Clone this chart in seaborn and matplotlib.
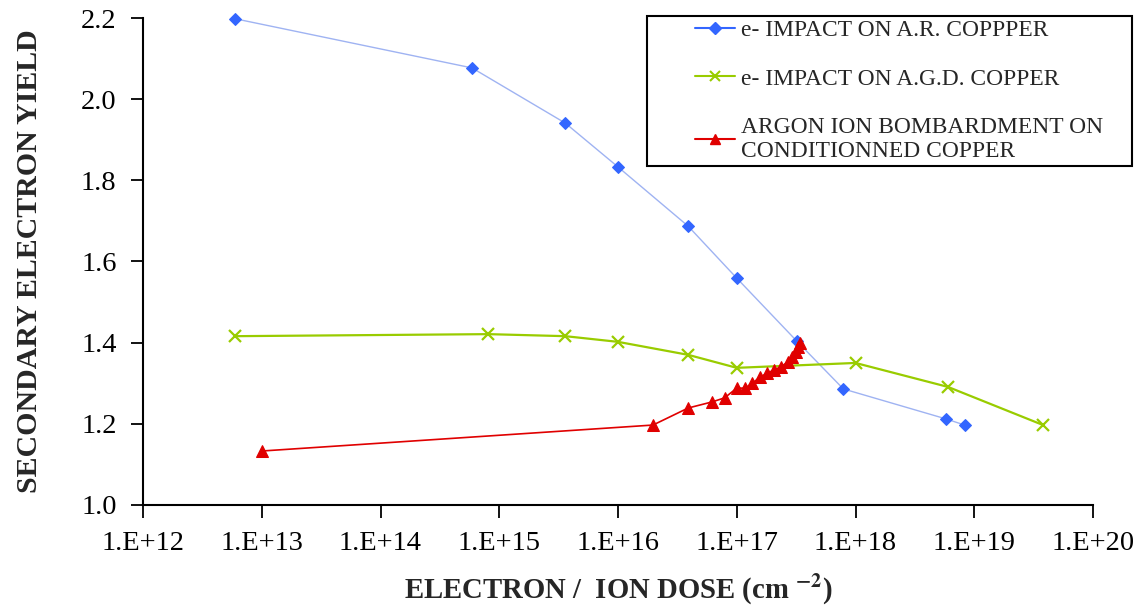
import numpy as np
import pandas as pd
import seaborn as sns
import matplotlib.pyplot as plt
from matplotlib.lines import Line2D
from matplotlib.patches import Rectangle
from matplotlib.ticker import FixedLocator, FuncFormatter, NullLocator

# data
ar_dose = [6.0e12, 5.9e14, 3.6e15, 1.0e16, 3.9e16, 1.0e17, 3.2e17, 7.9e17, 5.8e18, 8.3e18]
ar_yield = [2.198, 2.077, 1.941, 1.833, 1.687, 1.559, 1.404, 1.286, 1.212, 1.197]

agd_dose = [6.0e12, 8.1e14, 3.6e15, 1.0e16, 3.9e16, 1.0e17, 1.0e18, 6.0e18, 3.8e19]
agd_yield = [1.416, 1.421, 1.416, 1.402, 1.370, 1.338, 1.350, 1.291, 1.197]

ion_dose = [1.0e13, 1.97e16, 3.9e16, 6.2e16, 7.9e16, 1.0e17, 1.18e17, 1.35e17, 1.57e17,
            1.81e17, 2.07e17, 2.34e17, 2.68e17, 2.92e17, 3.13e17, 3.3e17, 3.4e17]
ion_yield = [1.133, 1.197, 1.239, 1.254, 1.264, 1.288, 1.288, 1.300, 1.315,
             1.325, 1.333, 1.340, 1.352, 1.365, 1.377, 1.389, 1.399]

labels = ['e- IMPACT ON A.R. COPPPER',
          'e- IMPACT ON A.G.D. COPPER',
          'ARGON ION BOMBARDMENT ON\nCONDITIONNED COPPER']

x_ticks = [1e12, 1e13, 1e14, 1e15, 1e16, 1e17, 1e18, 1e19, 1e20]
y_ticks = [1.0, 1.2, 1.4, 1.6, 1.8, 2.0, 2.2]

sns.set_theme(style='white')
plt.rcParams['font.family'] = ['Liberation Serif', 'DejaVu Serif']
plt.rcParams['mathtext.fontset'] = 'stix'

W, H = 1145, 607
fig = plt.figure(figsize=(W / 100, H / 100), dpi=100)
ax = fig.add_axes([143 / W, 1 - 505 / H, 950 / W, 487 / H])

ar = pd.DataFrame({'dose': ar_dose, 'yield': ar_yield})
agd = pd.DataFrame({'dose': agd_dose, 'yield': agd_yield})
ion = pd.DataFrame({'dose': ion_dose, 'yield': ion_yield})

sns.lineplot(data=ar, x='dose', y='yield', ax=ax, color='#9fb3f2', lw=1.0,
             marker='D', markersize=6.5, markerfacecolor='#3366ff',
             markeredgecolor='#3366ff', estimator=None, clip_on=False)
sns.lineplot(data=agd, x='dose', y='yield', ax=ax, color='#99cc00', lw=1.6,
             marker='x', markersize=8, markeredgewidth=1.6,
             markeredgecolor='#99cc00', estimator=None)
sns.lineplot(data=ion, x='dose', y='yield', ax=ax, color='#e00000', lw=1.2,
             marker='^', markersize=8, markerfacecolor='#e00000',
             markeredgecolor='#e00000', estimator=None)

ax.set_xscale('log')
ax.set_xlim(1e12, 1e20)
ax.set_ylim(1.0, 2.2)
ax.xaxis.set_major_locator(FixedLocator(x_ticks))
ax.xaxis.set_minor_locator(NullLocator())
ax.xaxis.set_major_formatter(FuncFormatter(lambda v, _: f'1.E+{int(round(np.log10(v)))}'))
ax.set_yticks(y_ticks)
ax.yaxis.set_major_formatter(FuncFormatter(lambda v, _: f'{v:.1f}'))

for s in ['top', 'right']:
    ax.spines[s].set_visible(False)
for s in ['left', 'bottom']:
    ax.spines[s].set_color('black')
    ax.spines[s].set_linewidth(1.5)
ax.tick_params(axis='both', which='major', direction='out', length=9, width=1.3,
               color='black', labelsize=20.5, labelcolor='black', pad=10)
ax.tick_params(axis='x', bottom=True)
ax.tick_params(axis='y', left=True)
ax.grid(False)

ax.set_xlabel(r'ELECTRON /  ION DOSE (cm $^{\mathbf{-2}}$)', fontsize=20.7, fontweight='bold')
ax.set_ylabel('SECONDARY ELECTRON YIELD', fontsize=21.5, fontweight='bold')
ax.xaxis.set_label_coords(0.5, (505 - 590) / 487)
ax.xaxis.label.set_va('center')
ax.yaxis.set_label_coords((30 - 143) / 950, 0.5)
ax.yaxis.label.set_va('center')

# legend box
box = Rectangle((647 / W, 1 - 166 / H), 485 / W, 150 / H, transform=fig.transFigure,
                facecolor='white', edgecolor='black', lw=1.5, zorder=3)
fig.patches.append(box)

handles = [
    Line2D([], [], color='#3366ff', lw=1.5, marker='D', markersize=6),
    Line2D([], [], color='#99cc00', lw=1.5, marker='x', markersize=7, markeredgewidth=1.5),
    Line2D([], [], color='#e00000', lw=1.5, marker='^', markersize=7),
]
leg = fig.legend(handles, labels, loc='upper left', bbox_to_anchor=(683 / W, 1 - 8 / H),
                 frameon=False, fontsize=16.9, handlelength=1.7, handletextpad=0.25,
                 labelspacing=1.15, borderpad=0)
leg.set_zorder(5)

fig.savefig('out.png', dpi=100)
